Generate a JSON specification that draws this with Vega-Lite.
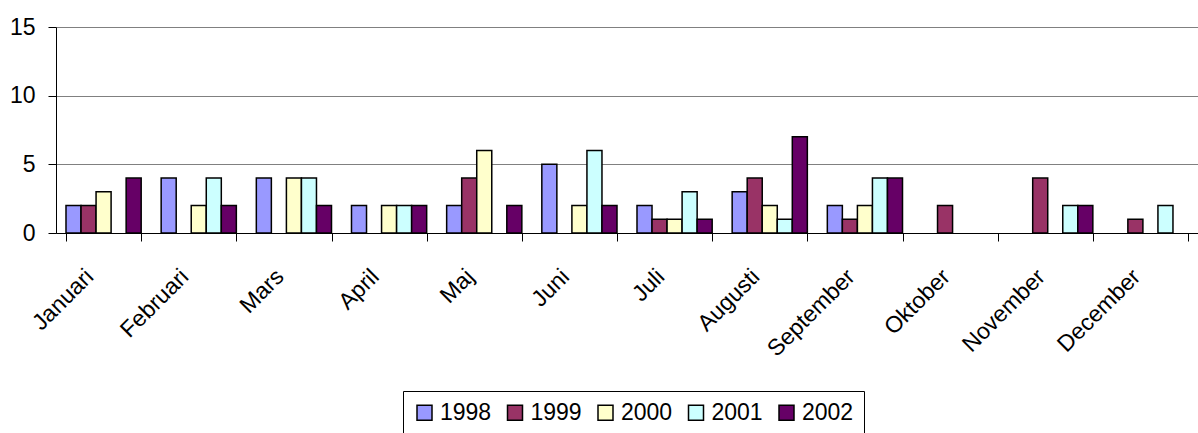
{
  "$schema": "https://vega.github.io/schema/vega-lite/v6.json",
  "width": 1142,
  "height": 206,
  "autosize": {"type": "none"},
  "padding": {"left": 56, "top": 27, "right": 0, "bottom": 200},
  "background": "white",
  "config": {"view": {"stroke": null}, "font": "Liberation Sans"},
  "data": {
    "values": [
      {"month": "Januari", "year": "1998", "value": 2},
      {"month": "Januari", "year": "1999", "value": 2},
      {"month": "Januari", "year": "2000", "value": 3},
      {"month": "Januari", "year": "2002", "value": 4},
      {"month": "Februari", "year": "1998", "value": 4},
      {"month": "Februari", "year": "2000", "value": 2},
      {"month": "Februari", "year": "2001", "value": 4},
      {"month": "Februari", "year": "2002", "value": 2},
      {"month": "Mars", "year": "1998", "value": 4},
      {"month": "Mars", "year": "2000", "value": 4},
      {"month": "Mars", "year": "2001", "value": 4},
      {"month": "Mars", "year": "2002", "value": 2},
      {"month": "April", "year": "1998", "value": 2},
      {"month": "April", "year": "2000", "value": 2},
      {"month": "April", "year": "2001", "value": 2},
      {"month": "April", "year": "2002", "value": 2},
      {"month": "Maj", "year": "1998", "value": 2},
      {"month": "Maj", "year": "1999", "value": 4},
      {"month": "Maj", "year": "2000", "value": 6},
      {"month": "Maj", "year": "2002", "value": 2},
      {"month": "Juni", "year": "1998", "value": 5},
      {"month": "Juni", "year": "2000", "value": 2},
      {"month": "Juni", "year": "2001", "value": 6},
      {"month": "Juni", "year": "2002", "value": 2},
      {"month": "Juli", "year": "1998", "value": 2},
      {"month": "Juli", "year": "1999", "value": 1},
      {"month": "Juli", "year": "2000", "value": 1},
      {"month": "Juli", "year": "2001", "value": 3},
      {"month": "Juli", "year": "2002", "value": 1},
      {"month": "Augusti", "year": "1998", "value": 3},
      {"month": "Augusti", "year": "1999", "value": 4},
      {"month": "Augusti", "year": "2000", "value": 2},
      {"month": "Augusti", "year": "2001", "value": 1},
      {"month": "Augusti", "year": "2002", "value": 7},
      {"month": "September", "year": "1998", "value": 2},
      {"month": "September", "year": "1999", "value": 1},
      {"month": "September", "year": "2000", "value": 2},
      {"month": "September", "year": "2001", "value": 4},
      {"month": "September", "year": "2002", "value": 4},
      {"month": "Oktober", "year": "1999", "value": 2},
      {"month": "November", "year": "1999", "value": 4},
      {"month": "November", "year": "2001", "value": 2},
      {"month": "November", "year": "2002", "value": 2},
      {"month": "December", "year": "1999", "value": 1},
      {"month": "December", "year": "2001", "value": 2}
    ]
  },
  "mark": {"type": "bar", "stroke": "black", "strokeWidth": 1.5},
  "encoding": {
    "x": {
      "field": "month",
      "type": "nominal",
      "sort": ["Januari", "Februari", "Mars", "April", "Maj", "Juni", "Juli", "Augusti", "September", "Oktober", "November", "December"],
      "scale": {"paddingInner": 0.21, "paddingOuter": 0.105},
      "axis": {
        "title": null,
        "labelAngle": -45,
        "labelFontSize": 23,
        "labelColor": "black",
        "tickColor": "black",
        "domainColor": "black",
        "tickSize": 8,
        "tickBand": "extent",
        "labelPadding": 24,
        "labelOffset": -22
      }
    },
    "xOffset": {
      "field": "year",
      "type": "nominal",
      "scale": {"domain": ["1998", "1999", "2000", "2001", "2002"], "paddingInner": 0, "paddingOuter": 0}
    },
    "y": {
      "field": "value",
      "type": "quantitative",
      "scale": {"domain": [0, 15]},
      "axis": {
        "values": [0, 5, 10, 15],
        "title": null,
        "gridColor": "#808080",
        "gridWidth": 1,
        "domainColor": "black",
        "tickColor": "black",
        "tickSize": 8,
        "labelFontSize": 23,
        "labelPadding": 13,
        "labelColor": "black"
      }
    },
    "color": {
      "field": "year",
      "type": "nominal",
      "scale": {"domain": ["1998", "1999", "2000", "2001", "2002"], "range": ["#9999FF", "#993366", "#FFFFCC", "#CCFFFF", "#660066"]},
      "legend": {
        "orient": "none",
        "legendX": 347,
        "legendY": 364,
        "direction": "horizontal",
        "title": null,
        "symbolType": "square",
        "symbolSize": 225,
        "symbolStrokeColor": "black",
        "symbolStrokeWidth": 1.5,
        "symbolOpacity": 1,
        "labelFontSize": 23,
        "labelColor": "black",
        "labelOffset": 4,
        "columnPadding": 11.5,
        "padding": 10,
        "strokeColor": "black",
        "fillColor": "white"
      }
    }
  }
}
